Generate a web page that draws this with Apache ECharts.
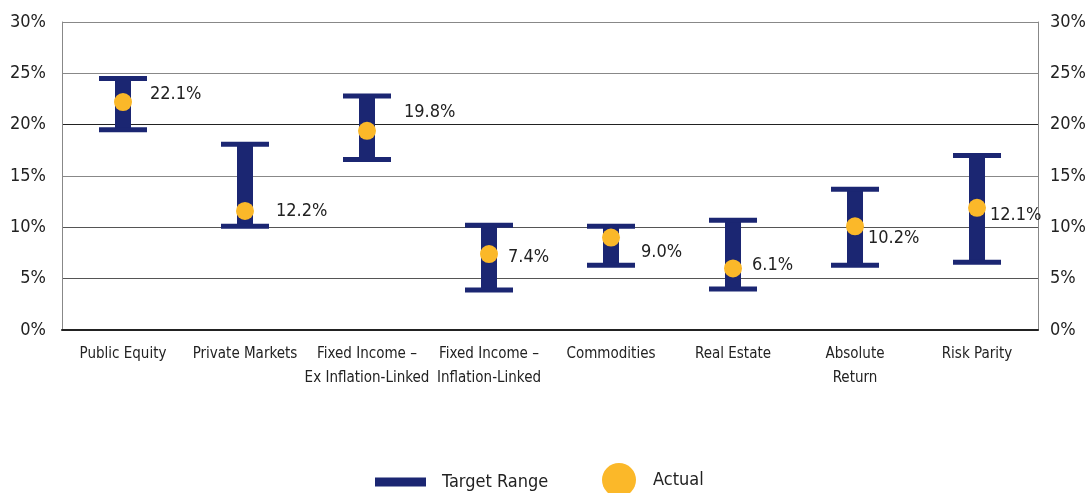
<!DOCTYPE html>
<html>
<head>
<meta charset="utf-8">
<script src="https://cdn.jsdelivr.net/npm/echarts@6/dist/echarts.min.js"></script>
<style>
  html, body { margin: 0; padding: 0; background: #fff; }
  #main { width: 1089px; height: 493px; }
</style>
</head>
<body>
<div id="main"></div>
<script>
var categories = ['Public Equity', 'Private Markets', 'Fixed Income –\nEx Inflation-Linked',
    'Fixed Income –\nInflation-Linked', 'Commodities', 'Real Estate', 'Absolute\nReturn', 'Risk Parity'];
// target range (low / high), in %
var rangeLow  = [19.5, 10.1, 16.6, 3.9, 6.3, 4.0, 6.3, 6.6];
var rangeHigh = [24.5, 18.1, 22.8, 10.2, 10.1, 10.7, 13.7, 17.0];
// actual, where the dots sit, and the printed labels
var actual = [22.2, 11.6, 19.4, 7.4, 9.0, 6.0, 10.1, 11.9];
var actualLabels = ['22.1%', '12.2%', '19.8%', '7.4%', '9.0%', '6.1%', '10.2%', '12.1%'];
var labelOffsets = [[18, -8], [22, 0], [28, -18], [10, 3], [21, 15], [10, -3], [4, 12], [4, 8]];
var yTicks = [0, 5, 10, 15, 20, 25, 30];

var navy = '#1b2672';
var gold = '#fbb829';
var font = '"Liberation Sans Narrow", "DejaVu Sans Condensed", sans-serif';

var rangeData = categories.map(function (c, i) {
    return [i, rangeLow[i], rangeHigh[i]];
});
var dotData = actual.map(function (v, i) {
    return {
        value: [i, v],
        label: { formatter: actualLabels[i], offset: labelOffsets[i] }
    };
});

function renderRange(params, api) {
    var lo = api.coord([api.value(0), api.value(1)]);
    var hi = api.coord([api.value(0), api.value(2)]);
    var capW = 48, capH = 5, stemW = 16;
    var style = { fill: navy };
    return {
        type: 'group',
        children: [
            { type: 'rect', shape: { x: hi[0] - stemW / 2, y: hi[1], width: stemW, height: lo[1] - hi[1] }, style: style },
            { type: 'rect', shape: { x: hi[0] - capW / 2, y: hi[1] - capH / 2, width: capW, height: capH }, style: style },
            { type: 'rect', shape: { x: lo[0] - capW / 2, y: lo[1] - capH / 2, width: capW, height: capH }, style: style }
        ]
    };
}

var myChart = echarts.init(document.getElementById('main'));
var yAxisBase = {
    type: 'value',
    min: yTicks[0],
    max: yTicks[yTicks.length - 1],
    interval: 5,
    axisLine: { show: true, lineStyle: { color: '#888', width: 1 } },
    axisTick: { show: false },
    axisLabel: { formatter: '{value}%', color: '#222', fontSize: 18, fontFamily: font }
};
var option = {
    animation: false,
    grid: { left: 62, right: 49, top: 22, bottom: 163 },
    legend: [{
        data: ['Target Range'],
        left: 370,
        top: 468,
        icon: 'rect',
        itemWidth: 51,
        itemHeight: 9,
        textStyle: { color: '#222', fontSize: 18, fontFamily: font, padding: [0, 0, 0, 11] }
    }, {
        data: ['Actual'],
        left: 597,
        top: 458,
        icon: 'circle',
        itemWidth: 34,
        itemHeight: 34,
        textStyle: { color: '#222', fontSize: 18, fontFamily: font, padding: [0, 0, 0, 12] }
    }],
    xAxis: {
        type: 'category',
        data: categories,
        boundaryGap: true,
        axisLine: { lineStyle: { color: '#222', width: 2 } },
        axisTick: { inside: true, length: 12, lineStyle: { color: '#333' } },
        axisLabel: { color: '#222', fontSize: 15, lineHeight: 24, margin: 12, fontFamily: font, interval: 0 }
    },
    yAxis: [
        Object.assign({}, yAxisBase, {
            position: 'left',
            axisLabel: Object.assign({}, yAxisBase.axisLabel, { margin: 16 }),
            splitLine: { show: true, lineStyle: { color: ['#888', '#555', '#555', '#888', '#222', '#888', '#888'], width: 1 } }
        }),
        Object.assign({}, yAxisBase, {
            position: 'right',
            axisLabel: Object.assign({}, yAxisBase.axisLabel, { margin: 12 }),
            splitLine: { show: false }
        })
    ],
    series: [{
        name: 'Target Range',
        type: 'custom',
        renderItem: renderRange,
        itemStyle: { color: navy },
        encode: { x: 0, y: [1, 2] },
        data: rangeData,
        z: 2
    }, {
        name: 'Actual',
        type: 'scatter',
        symbol: 'circle',
        symbolSize: 18,
        itemStyle: { color: gold, opacity: 1 },
        label: {
            show: true,
            position: 'right',
            distance: 0,
            color: '#222',
            fontSize: 18,
            fontFamily: font
        },
        data: dotData,
        z: 3
    }]
};
myChart.setOption(option);
</script>
</body>
</html>
